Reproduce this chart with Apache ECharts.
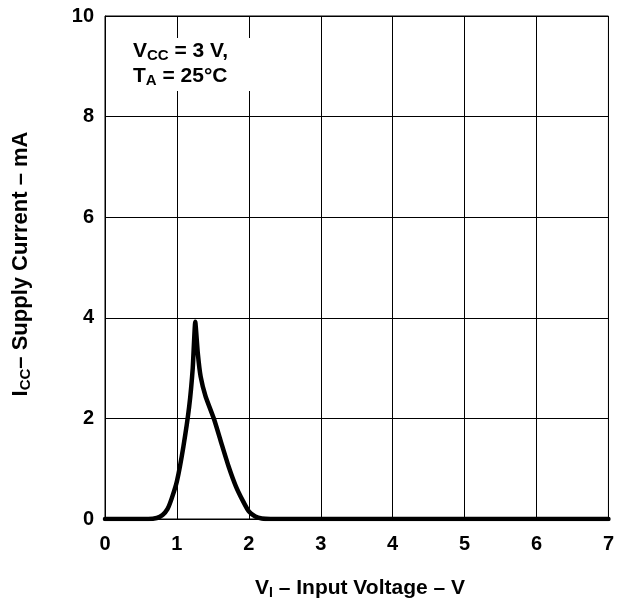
<!DOCTYPE html>
<html><head><meta charset="utf-8">
<script src="https://cdn.jsdelivr.net/npm/echarts@6/dist/echarts.min.js"></script>
<style>html,body{margin:0;padding:0;background:#fff}#c{width:617px;height:601px}</style>
</head><body><div id="c"></div>
<script>
const xVals = [0, 0.6, 0.72, 0.8, 0.87, 0.93, 1.0, 1.09, 1.17, 1.22, 1.255, 1.29, 1.33, 1.40, 1.52, 1.62, 1.72, 1.82, 1.91, 2.0, 2.09, 2.18, 2.3, 3, 4, 5, 6, 7];
const yVals = [0, 0, 0.02, 0.08, 0.2, 0.42, 0.75, 1.44, 2.23, 3.0, 3.92, 3.3, 2.83, 2.43, 1.97, 1.5, 1.04, 0.65, 0.38, 0.15, 0.05, 0.01, 0, 0, 0, 0, 0, 0];
const xTicks = [0, 1, 2, 3, 4, 5, 6, 7];
const yTicks = [0, 2, 4, 6, 8, 10];
const font = '"Liberation Sans", Arial, sans-serif';
const chart = echarts.init(document.getElementById('c'), null, {renderer: 'canvas'});
chart.setOption({
  animation: false,
  backgroundColor: '#fff',
  grid: {left: 105, right: 5, top: 16, bottom: 82, show: true, borderColor: '#000', borderWidth: 1},
  xAxis: {
    type: 'value', min: 0, max: 7, interval: 1,
    axisLine: {show: true, lineStyle: {color: '#000'}},
    axisTick: {show: false},
    splitLine: {show: true, lineStyle: {color: '#000', width: 1}},
    axisLabel: {color: '#000', fontFamily: font, fontWeight: 'bold', fontSize: 20, margin: 15,
      formatter: v => xTicks.includes(v) ? String(v) : ''}
  },
  yAxis: {
    type: 'value', min: 0, max: 10, interval: 2,
    axisLine: {show: true, lineStyle: {color: '#000'}},
    axisTick: {show: false},
    splitLine: {show: true, lineStyle: {color: '#000', width: 1}},
    axisLabel: {color: '#000', fontFamily: font, fontWeight: 'bold', fontSize: 20, margin: 11,
      formatter: v => yTicks.includes(v) ? String(v) : ''}
  },
  series: [{
    type: 'line', smooth: 0.15, symbol: 'none',
    data: xVals.map((x, i) => [x, yVals[i]]),
    lineStyle: {color: '#000', width: 4.5, cap: 'round', join: 'round'},
    z: 5
  }],
  graphic: [
    {type: 'rect', left: 106, top: 38, shape: {width: 155, height: 53}, style: {fill: '#fff'}, z: 10},
    {type: 'text', left: 133, top: 41, z: 11, style: {
      text: '{a|V}{s|CC}{a| = 3 V,}', rich: {
        a: {fontFamily: font, fontWeight: 'bold', fontSize: 21, fill: '#000'},
        s: {fontFamily: font, fontWeight: 'bold', fontSize: 15, fill: '#000', padding: [9, 0, 0, 0]}
      }}},
    {type: 'text', left: 133, top: 66, z: 11, style: {
      text: '{a|T}{s|A}{a| = 25°C}', rich: {
        a: {fontFamily: font, fontWeight: 'bold', fontSize: 21, fill: '#000'},
        s: {fontFamily: font, fontWeight: 'bold', fontSize: 15, fill: '#000', padding: [9, 0, 0, 0]}
      }}},
    {type: 'text', x: 360, y: 588, z: 11, style: {
      text: '{a|V}{s|I}{a| – Input Voltage – V}', align: 'center', verticalAlign: 'middle', rich: {
        a: {fontFamily: font, fontWeight: 'bold', fontSize: 21, fill: '#000'},
        s: {fontFamily: font, fontWeight: 'bold', fontSize: 14, fill: '#000', padding: [10, 0, 0, 0]}
      }}},
    {type: 'text', x: 21, y: 264, rotation: Math.PI / 2, z: 11, style: {
      text: '{a|I}{s|CC}{a|– Supply Current – mA}', align: 'center', verticalAlign: 'middle', rich: {
        a: {fontFamily: font, fontWeight: 'bold', fontSize: 22, fill: '#000'},
        s: {fontFamily: font, fontWeight: 'bold', fontSize: 15, fill: '#000', padding: [10, 0, 0, 0]}
      }}}
  ]
});
</script></body></html>
